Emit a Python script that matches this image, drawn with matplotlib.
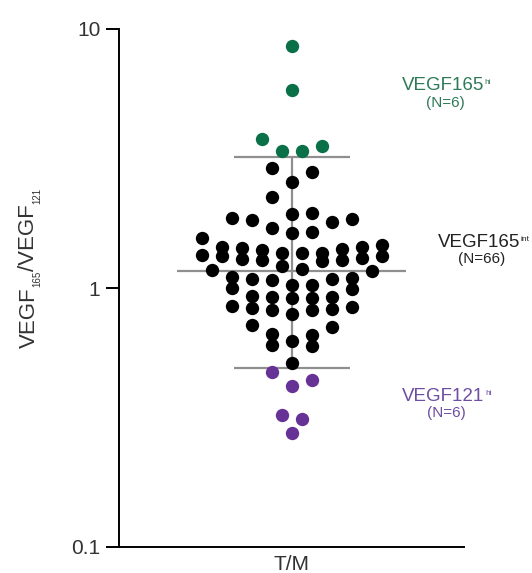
import numpy as np
import matplotlib
matplotlib.use("Agg")
import matplotlib.pyplot as plt

# VEGF165 / VEGF121 ratio, one value per tumour (T/M)
hi165 = [8.60, 5.79, 3.75, 3.53, 3.39, 3.38]
mid = [2.898, 2.812, 2.560, 2.240,
       1.955, 1.932, 1.860, 1.844, 1.832, 1.805, 1.702,
       1.652, 1.628, 1.558, 1.468, 1.446, 1.438, 1.426,
       1.413, 1.404, 1.371, 1.364, 1.362, 1.344,
       1.331, 1.329, 1.305, 1.293, 1.285, 1.277, 1.276, 1.211, 1.184, 1.176,
       1.159, 1.102, 1.093, 1.083, 1.082, 1.070, 1.030, 1.029, 1.000, 0.991,
       0.928, 0.923, 0.920, 0.919, 0.915, 0.855, 0.845, 0.838, 0.830, 0.825,
       0.820, 0.796, 0.722, 0.708, 0.665, 0.661, 0.623, 0.600, 0.596, 0.514]
hi121 = [0.475, 0.441, 0.418, 0.323, 0.313, 0.276]

center_line = 1.163
upper_cut = 3.195
lower_cut = 0.492

group_title = ["VEGF165", "VEGF165", "VEGF121"]
group_sup = ["hi", "int", "hi"]
group_n = [6, 66, 6]

dot_colors = ["#0a7048", "black", "#673295"]
text_colors = ["#2e7a58", "#222222", "#6d4ea0"]
gray = "#8f8f8f"

plt.rcParams["font.family"] = ["Liberation Sans", "DejaVu Sans"]


def swarm_x(vals, row_span=0.068, row_cap=10):
    # group sorted values into rows, then spread each row sideways,
    # higher values on the outside, lower ones toward the middle
    vals = np.asarray(vals, dtype=float)
    logs = np.log10(vals)
    order = np.argsort(-vals, kind="stable")
    rows, cur = [], []
    for i in order:
        if cur and (logs[cur[0]] - logs[i] > row_span or len(cur) >= row_cap):
            rows.append(cur)
            cur = []
        cur.append(i)
    rows.append(cur)
    x = np.zeros(len(vals))
    for row in rows:
        n = len(row)
        slots = list(np.arange(n) * 2.0 - (n - 1))
        seq = []
        while slots:
            seq.append(slots.pop(0))
            if slots:
                seq.append(slots.pop())
        for i, s in zip(row, seq):
            x[i] = s
    return x


fig = plt.figure(figsize=(5.32, 5.73), dpi=100)
ax = fig.add_axes([119 / 532, 1 - 547 / 573, 345 / 532, 518 / 573])

# cut-off bars
ax.hlines(center_line, -11.4, 11.4, color=gray, lw=1.6, zorder=1)
ax.hlines([upper_cut, lower_cut], -5.8, 5.8, color=gray, lw=1.6, zorder=1)
ax.vlines(0, lower_cut, upper_cut, color=gray, lw=1.6, zorder=1)

groups = [hi165, mid, hi121]
for vals, c in zip(groups, dot_colors):
    ax.plot(swarm_x(vals), vals, "o", ms=9.6, color=c, mec="none", zorder=3)

ax.set_yscale("log")
ax.set_ylim(0.1, 10)
ax.set_xlim(-17.25, 17.25)
ax.set_yticks([0.1, 1, 10])
ax.set_yticklabels(["0.1", "1", "10"])
ax.minorticks_off()
ax.set_xticks([0])
ax.set_xticklabels(["T/M"])
ax.tick_params(axis="y", length=9.4, width=1.4, pad=4, labelsize=15, labelcolor="#333333")
ax.tick_params(axis="x", length=0, pad=6, labelsize=15, labelcolor="#333333")
for s in ["top", "right"]:
    ax.spines[s].set_visible(False)
for s in ["left", "bottom"]:
    ax.spines[s].set_linewidth(1.4)

# y label with small subscripts
lab = dict(rotation=90, fontsize=16, color="#333333")
sub = dict(rotation=90, fontsize=7, color="#333333", ha="right", va="bottom",
           textcoords="offset points")
p1 = fig.text(29 / 532, 1 - 348 / 573, "VEGF", ha="center", va="bottom", **lab)
p2 = ax.annotate("165", xy=(1, 1), xycoords=p1, xytext=(2, 0), **sub)
p3 = ax.annotate("/VEGF", xy=(0.5, 1), xycoords=(p1, p2), ha="center", va="bottom", **lab)
p4 = ax.annotate("121", xy=(1, 1), xycoords=(p1, p3), xytext=(2, 0), **sub)

# group labels on the right
label_pos = [(11.0, 5.80), (14.6, 1.446), (11.05, 0.366)]
for (lx, ly), t, sp, n, c in zip(label_pos, group_title, group_sup, group_n, text_colors):
    t1 = ax.text(lx, ly, t, fontsize=13.5, color=c, va="baseline")
    ax.annotate(sp, xy=(1, 1), xycoords=t1, xytext=(0.5, -1.5), textcoords="offset points",
                fontsize=6, color=c, ha="left", va="top")
    ax.annotate("(N=%d)" % n, xy=(0.5, 0), xycoords=t1, xytext=(2, -1),
                textcoords="offset points", fontsize=11, color=c,
                ha="center", va="top")

fig.savefig("out.png", dpi=100)
